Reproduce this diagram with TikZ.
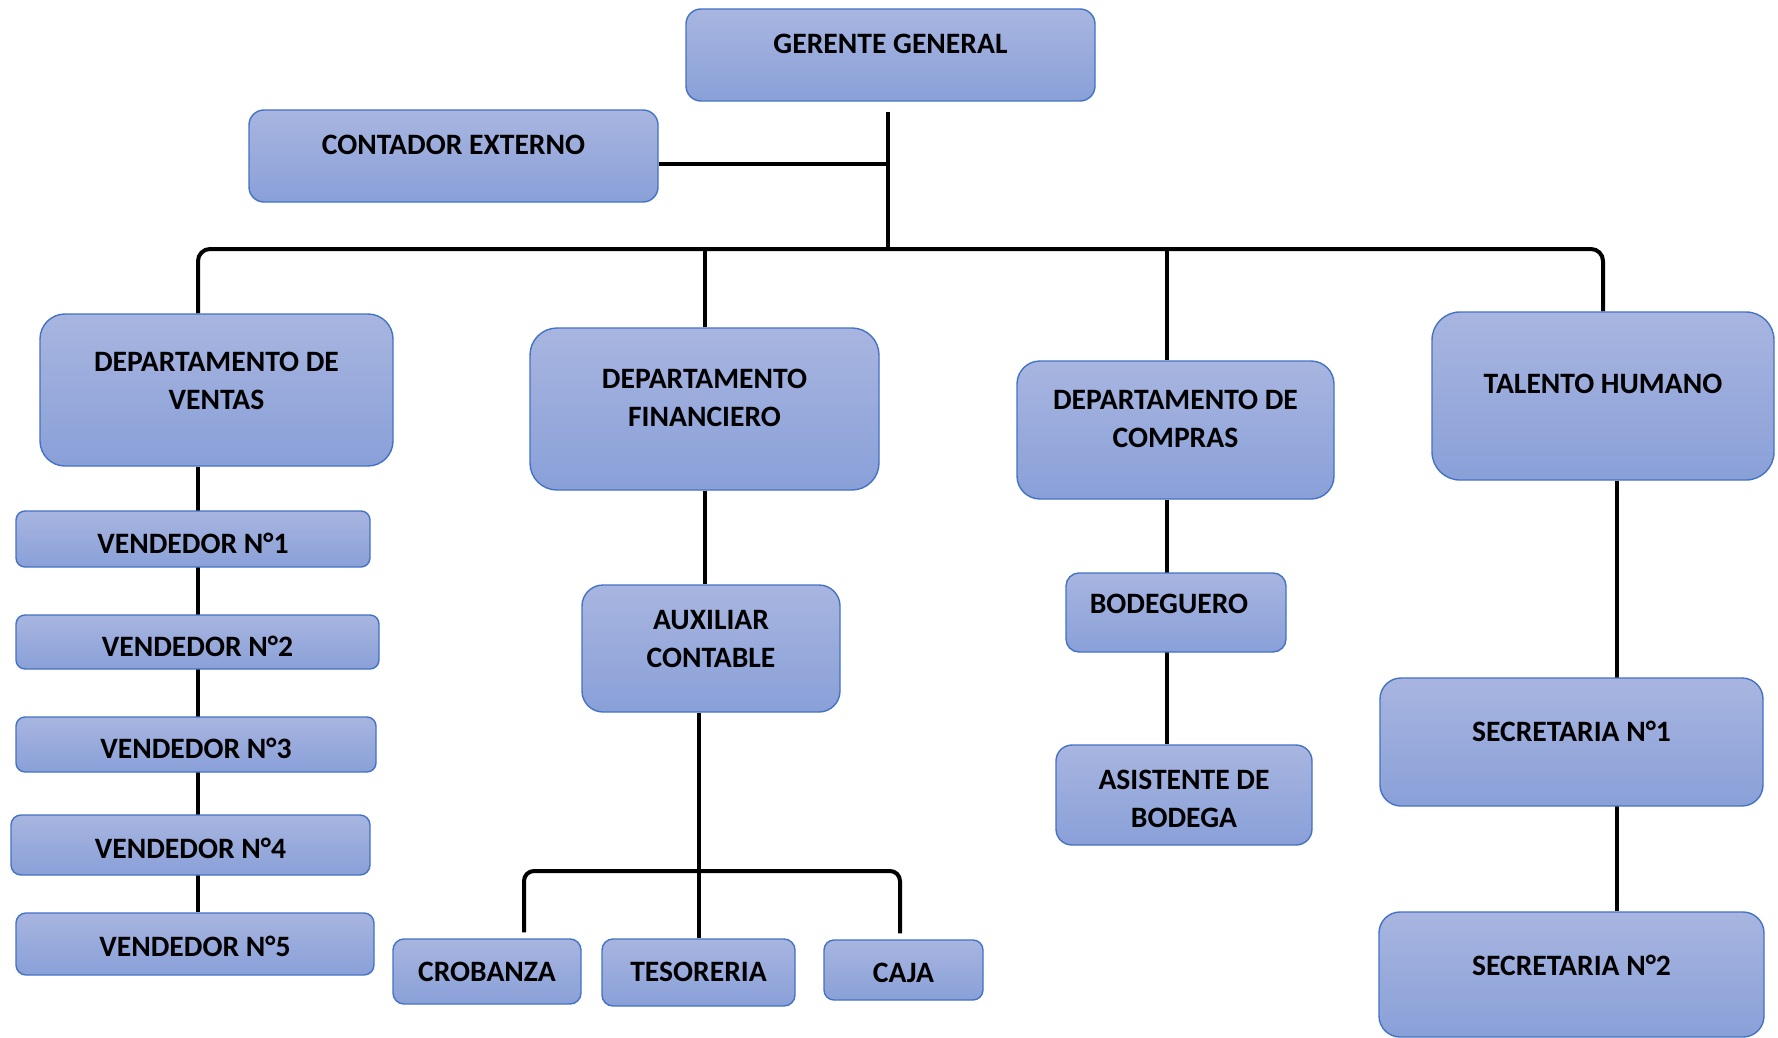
\documentclass[tikz,border=0pt]{standalone}
\usepackage{fontspec}
\setmainfont{Carlito}
\usetikzlibrary{backgrounds}
\definecolor{boxtop}{RGB}{168,181,224}
\definecolor{boxbot}{RGB}{137,160,216}
\definecolor{boxline}{RGB}{68,114,196}
\tikzset{
  box/.style={draw=boxline, line width=0.7pt, top color=boxtop, bottom color=boxbot, inner sep=0pt},
  lbl/.style={inner sep=0pt, align=center, font=\fontsize{14.8}{19}\selectfont\bfseries, text=black},
  conn/.style={line width=2pt, draw=black},
}
\begin{document}
\begin{tikzpicture}[x=0.5pt, y=-0.5pt]
\useasboundingbox (0,0) rectangle (1778,1038);
% boxes
\node[box, minimum width=204.5pt, minimum height=46pt, rounded corners=7.5pt] (gg) at (890.5,55) {};
\node[lbl] (gg-t) at (890.5,44) {GERENTE GENERAL};
\node[box, minimum width=204.5pt, minimum height=46pt, rounded corners=7.5pt] (ce) at (453.5,156) {};
\node[lbl] (ce-t) at (453.5,145) {CONTADOR EXTERNO};
\node[box, minimum width=176.5pt, minimum height=76pt, rounded corners=12.5pt] (dv) at (216.5,390) {};
\node[lbl] (dv-t) at (216.5,381) {DEPARTAMENTO DE\\VENTAS};
\node[box, minimum width=174.5pt, minimum height=81pt, rounded corners=13.5pt] (df) at (704.5,409) {};
\node[lbl] (df-t) at (704.5,397.5) {DEPARTAMENTO\\FINANCIERO};
\node[box, minimum width=158.5pt, minimum height=69pt, rounded corners=11.5pt] (dc) at (1175.5,430) {};
\node[lbl] (dc-t) at (1175.5,418.5) {DEPARTAMENTO DE\\COMPRAS};
\node[box, minimum width=171pt, minimum height=84pt, rounded corners=14pt] (th) at (1603,396) {};
\node[lbl] (th-t) at (1603,384) {TALENTO HUMANO};
\node[box, minimum width=191.5pt, minimum height=64pt, rounded corners=10.5pt] (s1) at (1571.5,742) {};
\node[lbl] (s1-t) at (1571.5,731) {SECRETARIA N°1};
\node[box, minimum width=192.5pt, minimum height=62.5pt, rounded corners=10.5pt] (s2) at (1571.5,974.5) {};
\node[lbl] (s2-t) at (1571.5,965) {SECRETARIA N°2};
\node[box, minimum width=177pt, minimum height=28pt, rounded corners=4.5pt] (v1) at (193,539) {};
\node[lbl] (v1-t) at (193,543) {VENDEDOR N°1};
\node[box, minimum width=181.5pt, minimum height=27pt, rounded corners=4.5pt] (v2) at (197.5,642) {};
\node[lbl] (v2-t) at (197.5,646) {VENDEDOR N°2};
\node[box, minimum width=180pt, minimum height=27.5pt, rounded corners=4.5pt] (v3) at (196,744.5) {};
\node[lbl] (v3-t) at (196,748) {VENDEDOR N°3};
\node[box, minimum width=179.5pt, minimum height=30pt, rounded corners=5pt] (v4) at (190.5,845) {};
\node[lbl] (v4-t) at (190.5,848) {VENDEDOR N°4};
\node[box, minimum width=179pt, minimum height=31pt, rounded corners=5pt] (v5) at (195,944) {};
\node[lbl] (v5-t) at (195,946) {VENDEDOR N°5};
\node[box, minimum width=129pt, minimum height=63.5pt, rounded corners=10.5pt] (ax) at (711,648.5) {};
\node[lbl] (ax-t) at (711,639) {AUXILIAR\\CONTABLE};
\node[box, minimum width=110pt, minimum height=39.5pt, rounded corners=6.5pt] (bo) at (1176,612.5) {};
\node[lbl] (bo-t) at (1169,604) {BODEGUERO};
\node[box, minimum width=128pt, minimum height=50pt, rounded corners=8pt] (as) at (1184,795) {};
\node[lbl] (as-t) at (1184,798.5) {ASISTENTE DE\\BODEGA};
\node[box, minimum width=94pt, minimum height=32.5pt, rounded corners=5.5pt] (cr) at (487,971.5) {};
\node[lbl] (cr-t) at (487,972) {CROBANZA};
\node[box, minimum width=96.5pt, minimum height=33.5pt, rounded corners=5.5pt] (te) at (698.5,972.5) {};
\node[lbl] (te-t) at (698.5,972) {TESORERIA};
\node[box, minimum width=79.5pt, minimum height=30pt, rounded corners=5pt] (ca) at (903.5,970) {};
\node[lbl] (ca-t) at (903.5,973) {CAJA};
% helper coordinates
\coordinate (bus) at (888,249);
\coordinate (vcol) at (198,0);
\coordinate (ccol) at (1167,0);
\coordinate (tcol) at (1617,0);
\coordinate (bus2) at (700,871);
\coordinate (crcol) at (524,0);
\coordinate (cacol) at (900,0);
\begin{pgfonlayer}{background}
\draw[conn, shorten <=5pt] (gg.south -| bus) -- (bus);
\draw[conn] ([yshift=-4pt]ce.east) -- ([yshift=-4pt]ce.east -| bus);
\draw[conn, rounded corners=6pt] (dv.north -| vcol) -- (vcol |- bus) -- (th.north |- bus) -- (th.north);
\draw[conn] (df.north) -- (df.north |- bus);
\draw[conn] (dc.north -| ccol) -- (ccol |- bus);
\draw[conn] (df.south) -- (ax.north -| df.south);
\draw[conn] (ax.south -| te.north) -- (te.north);
\draw[conn, rounded corners=5pt, shorten <=3pt, shorten >=3pt] (cr.north -| crcol) -- (crcol |- bus2) -- (cacol |- bus2) -- (ca.north -| cacol);
\draw[conn] (dv.south -| vcol) -- (v5.north -| vcol);
\draw[conn] (dc.south -| ccol) -- (as.north -| ccol);
\draw[conn] (th.south -| tcol) -- (s2.north -| tcol);
\end{pgfonlayer}
\end{tikzpicture}
\end{document}
